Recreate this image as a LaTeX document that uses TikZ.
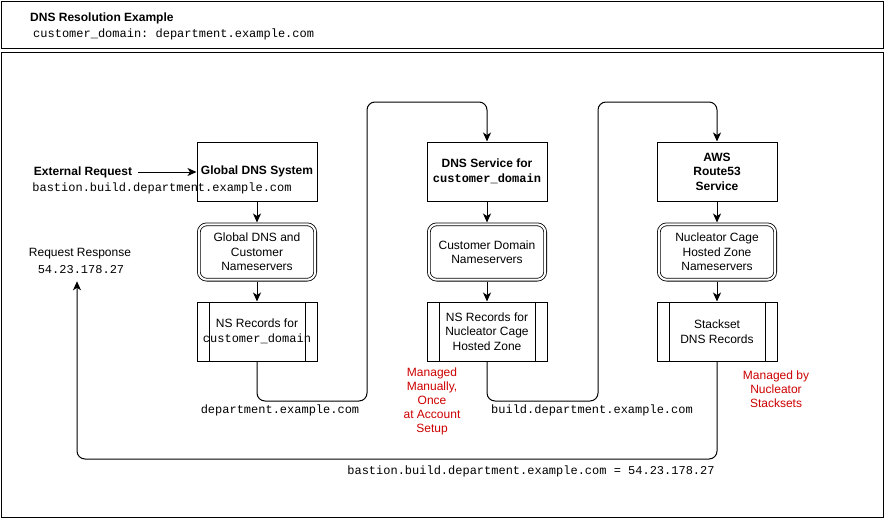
\documentclass[tikz,border=0pt]{standalone}
\usepackage{fontspec}
\setmainfont{Liberation Sans}
\setmonofont{Liberation Mono}
\usetikzlibrary{arrows.meta,positioning}
\definecolor{noteRed}{HTML}{CC0000}

\tikzset{
  txt/.style={font=\fontsize{12}{14.5}\selectfont, align=center, inner sep=0pt},
  boldtxt/.style={txt, font=\fontsize{12}{14.5}\selectfont\bfseries},
  mono/.style={txt, font=\fontsize{12}{14.5}\selectfont\ttfamily},
  note/.style={txt, font=\fontsize{12}{14}\selectfont, text=noteRed},
  frame/.style={draw, line width=1pt},
  sysbox/.style={boldtxt, draw, line width=1pt, minimum width=120pt, minimum height=59pt},
  nsbox/.style={txt, draw, double, double distance=2pt, line width=0.8pt, rounded corners=8pt,
    minimum width=116.4pt, minimum height=55.4pt, outer sep=1.8pt},
  recbox/.style={txt, draw, line width=1pt, minimum width=120pt, minimum height=59pt,
    path picture={
      \draw[line width=1pt] ([xshift=12pt]path picture bounding box.north west) -- ([xshift=12pt]path picture bounding box.south west);
      \draw[line width=1pt] ([xshift=-12pt]path picture bounding box.north east) -- ([xshift=-12pt]path picture bounding box.south east);
    }},
  link/.style={line width=1pt, -{Stealth[length=9pt,width=8pt,inset=2.5pt]}, rounded corners=8pt}
}

\begin{document}
\begin{tikzpicture}[x=1pt, y=-1pt]
    \useasboundingbox (0,0) rectangle (890,525);

    % Header
    \draw[frame] (1,1) rectangle (883,48);
    \node[boldtxt, anchor=west] (title) at (30,18) {DNS Resolution Example};
    \node[mono, anchor=west] (domain) at (33,34) {customer\_domain: department.example.com};

    % Main frame
    \draw[frame] (1,52) rectangle (883,517);

    % DNS systems
    \node[sysbox] (top1) at (257,171.5) {Global DNS System};
    \node[sysbox] (top2) at (487,171.5) {DNS Service for\\{\ttfamily customer\_domain}};
    \node[sysbox] (top3) at (717,171.5) {AWS\\Route53\\Service};

    % Nameservers
    \node[nsbox] (dns1) at (257,252) {Global DNS and\\Customer\\Nameservers};
    \node[nsbox] (dns2) at (487,252) {Customer Domain\\Nameservers};
    \node[nsbox] (dns3) at (717,252) {Nucleator Cage\\Hosted Zone\\Nameservers};

    % Records
    \node[recbox] (rec1) at (257,331.5) {NS Records for\\{\ttfamily customer\_domain}};
    \node[recbox] (rec2) at (487,331.5) {NS Records for\\Nucleator Cage\\Hosted Zone};
    \node[recbox] (rec3) at (717,331.5) {Stackset\\DNS Records};

    \foreach \i in {1,2,3} {
        \draw[link] (top\i) -- (dns\i);
        \draw[link] (dns\i) -- (rec\i);
    }

    % Request and response
    \node[boldtxt] (ext) at (83,172) {External Request};
    \node[mono] (extname) at (162,188) {bastion.build.department.example.com};
    \draw[link, shorten <=6pt] (ext.east) -- (ext.east -| top1.west);

    \node[txt] (resp) at (80,254) {Request Response};
    \node[mono] (respip) at (81,270) {54.23.178.27};

    % Delegation paths
    \coordinate (low1) at (367,401);
    \coordinate (high1) at (367,102);
    \draw[link] (rec1.south) |- (low1) -- (high1) -| (top2.north);
    \node[mono] (lbl1) at (280,410) {department.example.com};

    \coordinate (low2) at (598,401);
    \coordinate (high2) at (598,102);
    \draw[link] (rec2.south) |- (low2) -- (high2) -| (top3.north);
    \node[mono] (lbl2) at (592,410) {build.department.example.com};

    % Answer
    \coordinate (low3) at (77,459);
    \draw[link, shorten >=7pt] (rec3.south) |- (low3) -- (low3 |- respip.south);
    \node[mono] (lbl3) at (531,471) {bastion.build.department.example.com = 54.23.178.27};

    % Notes
    \node[note] (manual) at (432,401) {Managed\\Manually,\\Once\\at Account\\Setup};
    \node[note] (stack) at (776,389) {Managed by\\Nucleator\\Stacksets};
\end{tikzpicture}
\end{document}
